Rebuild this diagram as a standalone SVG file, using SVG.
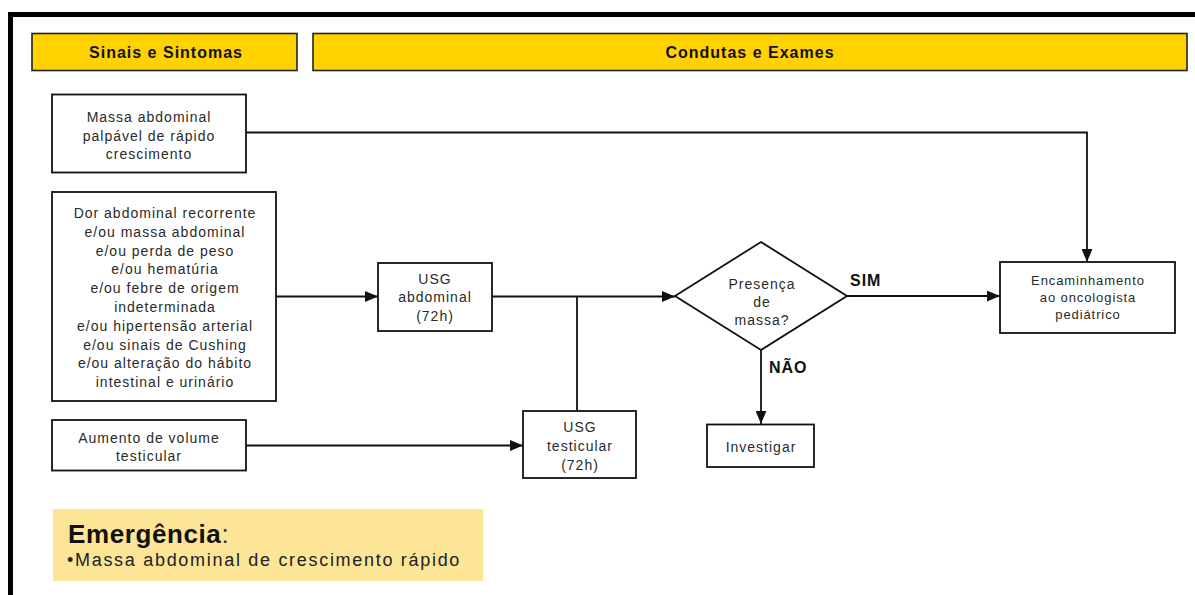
<svg xmlns="http://www.w3.org/2000/svg" width="1195" height="595" viewBox="0 0 1195 595">
<defs>
<marker id="arr" viewBox="0 0 12 10" refX="12" refY="5" markerWidth="13" markerHeight="11" markerUnits="userSpaceOnUse" orient="auto">
<path d="M0,0 L12,5 L0,10 Z" fill="#111"/>
</marker>
<style>
.hdr{fill:#FFD200;stroke:#222;stroke-width:1.6}
.hdrt{font-family:"Liberation Sans",Arial,sans-serif;font-weight:bold;font-size:16px;letter-spacing:1px;fill:#111;text-anchor:middle}
.box{fill:#fff;stroke:#111;stroke-width:1.8}
.t{font-family:"Liberation Sans",Arial,sans-serif;font-size:14px;letter-spacing:1px;fill:#2a2a2a;text-anchor:middle}
.t12{font-family:"Liberation Sans",Arial,sans-serif;font-size:13px;letter-spacing:0.9px;fill:#2a2a2a;text-anchor:middle}
.lbl{font-family:"Liberation Sans",Arial,sans-serif;font-weight:bold;font-size:16px;letter-spacing:1px;fill:#111}
.c{fill:none;stroke:#111;stroke-width:1.8}
</style>
</defs>
<rect x="0" y="0" width="1195" height="595" fill="#fff"/>
<rect id="frame" x="10.5" y="14.5" width="1200" height="600" fill="none" stroke="#000" stroke-width="5"/>

<g id="hdr-sinais">
<rect class="hdr" x="32" y="33.5" width="265" height="37"/>
<text class="hdrt" x="166" y="58">Sinais e Sintomas</text>
</g>
<g id="hdr-condutas">
<rect class="hdr" x="313" y="33.5" width="874" height="37"/>
<text class="hdrt" x="750" y="58">Condutas e Exames</text>
</g>

<g id="connectors">
<polyline class="c" points="246,132.5 1087,132.5 1087,262" marker-end="url(#arr)"/>
<line class="c" x1="276" y1="296.5" x2="378" y2="296.5" marker-end="url(#arr)"/>
<line class="c" x1="492" y1="296.5" x2="675" y2="296.5" marker-end="url(#arr)"/>
<line class="c" x1="577" y1="296.5" x2="577" y2="411"/>
<line class="c" x1="246" y1="445.5" x2="523" y2="445.5" marker-end="url(#arr)"/>
<line class="c" x1="847" y1="296" x2="1000" y2="296" marker-end="url(#arr)"/>
<line class="c" x1="761" y1="350" x2="761" y2="424" marker-end="url(#arr)"/>
</g>

<g id="n-massa">
<rect class="box" x="52" y="94.5" width="194" height="78"/>
<text class="t" x="149" y="122">Massa abdominal</text>
<text class="t" x="149" y="140.5">palpável de rápido</text>
<text class="t" x="149" y="159">crescimento</text>
</g>

<g id="n-dor">
<rect class="box" x="52" y="192" width="224" height="209"/>
<text class="t" x="165" y="218">Dor abdominal recorrente</text>
<text class="t" x="165" y="236.8">e/ou massa abdominal</text>
<text class="t" x="165" y="255.6">e/ou perda de peso</text>
<text class="t" x="165" y="274.4">e/ou hematúria</text>
<text class="t" x="165" y="293.2">e/ou febre de origem</text>
<text class="t" x="165" y="312">indeterminada</text>
<text class="t" x="165" y="330.8">e/ou hipertensão arterial</text>
<text class="t" x="165" y="349.6">e/ou sinais de Cushing</text>
<text class="t" x="165" y="368.4">e/ou alteração do hábito</text>
<text class="t" x="165" y="387.2">intestinal e urinário</text>
</g>

<g id="n-aumento">
<rect class="box" x="52" y="420" width="194" height="50.5"/>
<text class="t" x="149" y="442.5">Aumento de volume</text>
<text class="t" x="149" y="461">testicular</text>
</g>

<g id="n-usg-abd">
<rect class="box" x="378" y="263" width="114" height="68"/>
<text class="t" x="435" y="283.5">USG</text>
<text class="t" x="435" y="302">abdominal</text>
<text class="t" x="435" y="320.5">(72h)</text>
</g>

<g id="n-usg-test">
<rect class="box" x="523" y="411" width="113" height="67"/>
<text class="t" x="580" y="431.5">USG</text>
<text class="t" x="580" y="450.5">testicular</text>
<text class="t" x="580" y="470">(72h)</text>
</g>

<g id="n-presenca">
<polygon class="box" points="675,296 761,242 847,296 761,350"/>
<text class="t" x="762" y="288.5">Presença</text>
<text class="t" x="762" y="306.5">de</text>
<text class="t" x="762" y="324.5">massa?</text>
</g>

<g id="n-encaminhamento">
<rect class="box" x="1000" y="262" width="175" height="71"/>
<text class="t12" x="1088" y="284.5">Encaminhamento</text>
<text class="t12" x="1088" y="301.5">ao oncologista</text>
<text class="t12" x="1088" y="318.5">pediátrico</text>
</g>

<g id="n-investigar">
<rect class="box" x="707" y="424.5" width="107" height="42.5"/>
<text class="t" x="761" y="451.5">Investigar</text>
</g>

<g id="labels">
<text class="lbl" x="850" y="285.5">SIM</text>
<text class="lbl" x="769" y="372.5">NÃO</text>
</g>

<g id="n-emergencia">
<rect x="53" y="509" width="430" height="72" fill="#FDE597"/>
<text x="68" y="543" font-family="'Liberation Sans',Arial,sans-serif" font-size="26px" letter-spacing="0.6px" fill="#111"><tspan font-weight="bold">Emergência</tspan><tspan fill="#333">:</tspan></text>
<text x="67" y="566" font-family="'Liberation Sans',Arial,sans-serif" font-size="18px" letter-spacing="1.7px" fill="#222">•Massa abdominal de crescimento rápido</text>
</g>
</svg>
